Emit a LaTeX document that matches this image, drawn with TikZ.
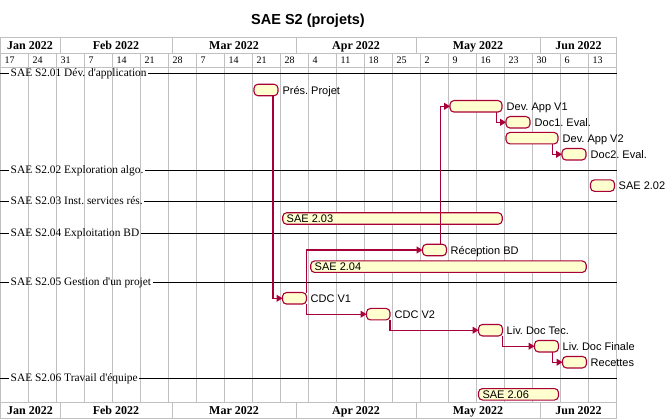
\documentclass[tikz,border=0pt]{standalone}
\usepackage{fontspec}
\setmainfont{Liberation Serif}
\newfontfamily\sansf{Liberation Sans}
\usetikzlibrary{arrows.meta}
\definecolor{barborder}{HTML}{A80036}
\definecolor{barfill}{HTML}{FEFECE}
\definecolor{gridgray}{HTML}{C0C0C0}
\frenchspacing
\tikzset{
 gridline/.style={draw=gridgray, line width=0.9pt},
 secline/.style={draw=black, line width=1pt},
 bar/.style={draw=barborder, fill=barfill, line width=1.1pt, rounded corners=4pt, minimum height=11.5pt, inner sep=0pt, anchor=west, outer sep=0pt},
 tasklbl/.style={font=\sansf\fontsize{11}{13}\selectfont, anchor=base west, inner sep=0pt},
 seclbl/.style={font=\fontsize{11.4}{13}\selectfont, anchor=base west, inner xsep=1.5pt, inner ysep=0pt},
 daylbl/.style={font=\fontsize{10}{12}\selectfont, anchor=base west, inner sep=0pt},
 monlbl/.style={font=\bfseries\fontsize{12}{14}\selectfont, anchor=base, inner sep=0pt},
 titlelbl/.style={font=\sansf\bfseries\fontsize{14.5}{16}\selectfont, anchor=base, inner sep=0pt},
 conn/.style={draw=barborder, line width=1.1pt, -{Triangle[length=6pt,width=7pt]}},
}
\begin{document}
\begin{tikzpicture}[x=1pt,y=-1pt]
\useasboundingbox (0,0) rectangle (666,419);
% title
\node[titlelbl] (title) at (308,25) {SAE S2 (projets)};
% grid
\foreach \k in {1,...,21} { \draw[gridline] (28*\k,53) -- (28*\k,402); }
\draw[gridline] (0.5,37) -- (0.5,418);
\draw[gridline] (616.5,37) -- (616.5,418);
\foreach \m in {60,172,296,416,540} {
  \draw[gridline] (\m,37) -- (\m,53);
  \draw[gridline] (\m,402) -- (\m,418);
}
\foreach \yy in {37,53,67,402,418} { \draw[gridline] (0,\yy) -- (617,\yy); }
% day labels
\foreach \d [count=\i from 0] in {17,24,31,7,14,21,28,7,14,21,28,4,11,18,25,2,9,16,23,30,6,13} {
  \node[daylbl] (day\i) at (28*\i+4.5,63.5) {\d};
}
% month labels
\foreach \mx/\mn [count=\j] in {30/Jan 2022,116/Feb 2022,234/Mar 2022,356/Apr 2022,478/May 2022,578.5/Jun 2022} {
  \node[monlbl] (mt\j) at (\mx,49.3) {\mn};
  \node[monlbl] (mb\j) at (\mx,414.3) {\mn};
}
% section lines with labels
\foreach \sy/\st [count=\s] in {74/{SAE S2.01 Dév. d\textquotesingle application},170.7/{SAE S2.02 Exploration algo.},202/{SAE S2.03 Inst. services rés.},234/{SAE S2.04 Exploitation BD},282.3/{SAE S2.05 Gestion d\textquotesingle un projet},378.3/{SAE S2.06 Travail d\textquotesingle équipe}} {
  \node[seclbl] (sec\s) at (9,\sy+3) {\st};
  \coordinate (secl\s) at (0,\sy);
  \coordinate (secr\s) at (617,\sy);
  \draw[secline] (secl\s) -- (secl\s -| sec\s.west);
  \draw[secline] (secr\s -| sec\s.east) -- (secr\s);
}
% bars
\node[bar, minimum width=24pt] (pres) at (254,90) {};
\node[bar, minimum width=52pt] (devv1) at (450,106.3) {};
\node[bar, minimum width=24pt] (doc1) at (506,122.3) {};
\node[bar, minimum width=52pt] (devv2) at (506,138.2) {};
\node[bar, minimum width=24pt] (doc2) at (562,154.3) {};
\node[bar, minimum width=24pt] (sae202) at (590.5,185.6) {};
\node[bar, minimum width=219.5pt] (sae203) at (282.7,218.5) {};
\node[bar, minimum width=24pt] (recbd) at (422.5,250) {};
\node[bar, minimum width=275.5pt] (sae204) at (310.7,266.7) {};
\node[bar, minimum width=24pt] (cdcv1) at (282.5,298.3) {};
\node[bar, minimum width=23.5pt] (cdcv2) at (366.5,314.2) {};
\node[bar, minimum width=24pt] (livtec) at (478.5,330.2) {};
\node[bar, minimum width=24pt] (livfin) at (534.5,346.2) {};
\node[bar, minimum width=24pt] (recettes) at (562.5,362.2) {};
\node[bar, minimum width=80pt] (sae206) at (478.5,394.3) {};
% labels
\node[tasklbl] (lpres) at (282.3,94.2) {Prés. Projet};
\node[tasklbl] (ldevv1) at (506.5,110.5) {Dev. App V1};
\node[tasklbl] (ldoc1) at (534.5,126.5) {Doc1. Eval.};
\node[tasklbl] (ldevv2) at (562.5,142.4) {Dev. App V2};
\node[tasklbl] (ldoc2) at (590.5,158.5) {Doc2. Eval.};
\node[tasklbl] (l202) at (618.5,189.8) {SAE 2.02};
\node[tasklbl] (l203) at (286.5,222.7) {SAE 2.03};
\node[tasklbl] (lrec) at (450.5,254.2) {Réception BD};
\node[tasklbl] (l204) at (314.5,270.9) {SAE 2.04};
\node[tasklbl] (lcdc1) at (310.5,302.5) {CDC V1};
\node[tasklbl] (lcdc2) at (394.5,318.4) {CDC V2};
\node[tasklbl] (llivtec) at (506.5,334.4) {Liv. Doc Tec.};
\node[tasklbl] (llivfin) at (562.5,350.4) {Liv. Doc Finale};
\node[tasklbl] (lrecet) at (590.5,366.4) {Recettes};
\node[tasklbl] (l206) at (482.3,398.5) {SAE 2.06};
% connectors
\draw[conn] ([xshift=-5pt]pres.south east) |- (cdcv1.west);
\draw[conn] ([xshift=-6pt]recbd.north east) |- (devv1.west);
\draw[conn] (cdcv1.north east) |- (recbd.west);
\draw[conn] (cdcv1.south east) |- (cdcv2.west);
\draw[conn] (cdcv2.south east) |- (livtec.west);
\draw[conn] (livtec.south east) |- (livfin.west);
\draw[conn] ([xshift=-6pt]livfin.south east) |- (recettes.west);
\draw[conn] ([xshift=-5.5pt]devv1.south east) |- (doc1.west);
\draw[conn] ([xshift=-5.5pt]devv2.south east) |- (doc2.west);
\end{tikzpicture}
\end{document}
